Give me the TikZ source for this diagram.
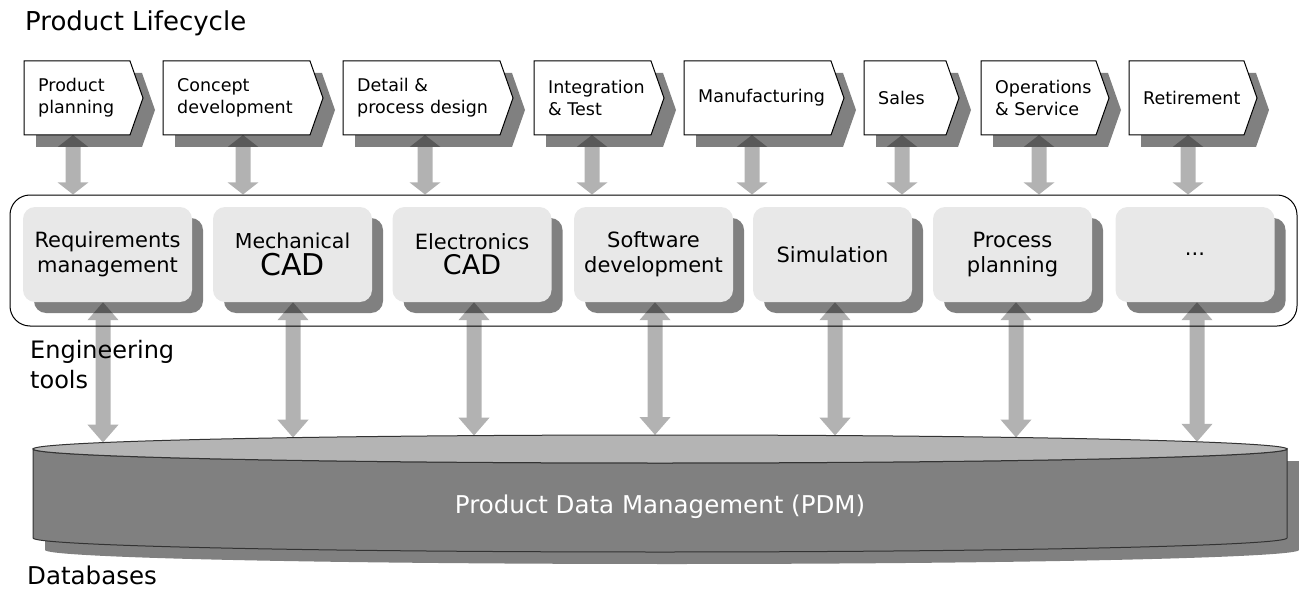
\documentclass[tikz,border=0pt]{standalone}
\usepackage{fontspec}
\setmainfont{DejaVu Sans}
\usetikzlibrary{arrows.meta,shadows}
\definecolor{boxgray}{HTML}{E8E8E8}
\definecolor{shgray}{HTML}{808080}
\definecolor{topgray}{HTML}{B4B4B4}
\newcommand\fs[2]{\fontsize{#1}{#2}\selectfont}
\newcommand\chevron[4]{%
  \fill[chevsh] (#2+12,73) -- (#3-1,73) -- (#3+12,110) -- (#3-1,147) -- (#2+12,147) -- cycle;
  \draw[chev] (#2,61) -- (#3-13,61) -- (#3,98) -- (#3-13,135) -- (#2,135) -- cycle;
  \node[chevtext] (#1) at (#2+14,98) {#4};
}
\begin{document}
\begin{tikzpicture}[x=1pt,y=-1pt,
  chev/.style={draw=black, line width=1pt, fill=white},
  chevsh/.style={fill=shgray},
  chevtext/.style={anchor=west, align=left, inner sep=0pt, font=\fs{17.5}{22}},
  tool/.style={rounded corners=12pt, fill=boxgray, minimum height=95pt, minimum width=159pt, align=center, inner sep=0pt, font=\fs{21}{25},
    general shadow={fill=shgray, shadow xshift=11pt, shadow yshift=-11pt}},
  arrT/.style={line width=15pt, {Triangle[width=30pt,length=12pt]}-{Triangle[width=30pt,length=12pt]}},
  arrB/.style={line width=15pt, {Triangle[width=30pt,length=18pt]}-{Triangle[width=30pt,length=18pt]}},
  lbl/.style={anchor=north west, inner sep=0pt, font=\fs{24}{30}, align=left},
]
\useasboundingbox (0,0) rectangle (1299,591);

% titles
\node[lbl, font=\fs{26}{28}] (title) at (25,11) {Product Lifecycle};
\node[lbl] (englbl) at (30,340) {Engineering\\tools};
\node[lbl, font=\fs{24.5}{26}] (dblbl) at (27,566) {Databases};

% chevrons
\chevron{p1}{24}{143}{Product\\planning}
\chevron{p2}{163}{323}{Concept\\development}
\chevron{p3}{343}{513}{Detail \&\\process design}
\chevron{p4}{534}{664}{Integration\\\& Test}
\chevron{p5}{684}{844}{Manufacturing}
\chevron{p6}{864}{959}{Sales}
\chevron{p7}{981}{1109}{Operations\\\& Service}
\chevron{p8}{1129}{1257}{Retirement}

% engineering tools container
\node[draw=black, line width=1pt, rounded corners=20pt, minimum width=1287pt, minimum height=131pt, inner sep=0pt] (eng) at (653.5,260.5) {};

\node[tool, minimum width=169pt] (t1) at (107.5,254.5) {Requirements\\management};
\node[tool] (t2) at (292.5,254.5) {{\fs{20.5}{25}Mechanical}\\[2pt]{\fs{30}{30}CAD}};
\node[tool] (t3) at (472,254.5) {Electronics\\{\fs{27}{28}CAD}};
\node[tool] (t4) at (653.5,254.5) {Software\\development};
\node[tool] (t5) at (832.5,254.5) {Simulation};
\node[tool] (t6) at (1012.5,254.5) {Process\\planning};
\node[tool] (t7) at (1195,254.5) {...};

% PDM cylinder
\begin{scope}[shift={(12,12)}]
  \fill[shgray] (33,449) -- (33,538) arc[start angle=180, end angle=0, x radius=627, y radius=14] -- (1287,449) -- cycle;
\end{scope}
\draw[fill=shgray, line width=1pt, draw=black!80] (33,449) -- (33,538) arc[start angle=180, end angle=0, x radius=627, y radius=14] -- (1287,449) arc[start angle=0, end angle=180, x radius=627, y radius=14] -- cycle;
\draw[fill=topgray, line width=1pt, draw=black!80] (660,449) ellipse[x radius=627, y radius=14];
\node[font=\fs{24.5}{28}, text=white, inner sep=0pt] (pdm) at (660,507) {Product Data Management (PDM)};

% arrow end points
\coordinate (a1) at (73,135);
\coordinate (a2) at (243,135);
\coordinate (a3) at (425,135);
\coordinate (a4) at (592,135);
\coordinate (a5) at (752,135);
\coordinate (a6) at (902,135);
\coordinate (a7) at (1039,135);
\coordinate (a8) at (1188,135);
\coordinate (b1) at (103,442.6);
\coordinate (b2) at (293,437.7);
\coordinate (b3) at (474,435.6);
\coordinate (b4) at (655,435);
\coordinate (b5) at (835,435.6);
\coordinate (b6) at (1016,437.5);
\coordinate (b7) at (1197,441.8);

\begin{scope}[transparency group, opacity=0.3]
  \foreach \i in {1,...,8} { \draw[arrT, black] (a\i) -- (a\i |- eng.north); }
  \draw[arrB, black] (t1.south -| b1) -- (b1);
  \draw[arrB, black] (t2.south -| b2) -- (b2);
  \draw[arrB, black] (t3.south -| b3) -- (b3);
  \draw[arrB, black] (t4.south -| b4) -- (b4);
  \draw[arrB, black] (t5.south -| b5) -- (b5);
  \draw[arrB, black] (t6.south -| b6) -- (b6);
  \draw[arrB, black] (t7.south -| b7) -- (b7);
\end{scope}
\end{tikzpicture}
\end{document}
